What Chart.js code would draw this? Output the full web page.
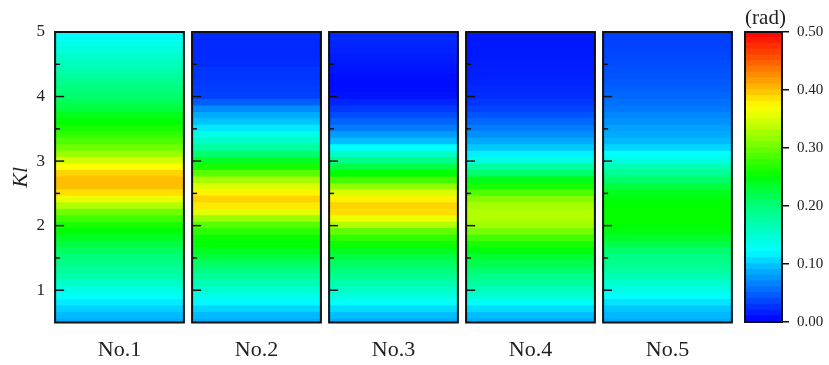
<!DOCTYPE html>
<html>
<head>
<meta charset="utf-8">
<script src="https://cdn.jsdelivr.net/npm/chart.js@4.4.0/dist/chart.umd.min.js"></script>
<style>
    body { margin: 0; background: #fff; }
    #wrap { position: relative; width: 829px; height: 365px; }
    #mainChart { position: absolute; left: 0; top: 0; }
    #barChart { position: absolute; left: 700px; top: 0; }
</style>
</head>
<body>
<div id="wrap">
    <canvas id="mainChart" width="745" height="365"></canvas>
    <canvas id="barChart" width="129" height="365"></canvas>
</div>
<script>
// paneles
const panelLabels = ['No.1', 'No.2', 'No.3', 'No.4', 'No.5'];

// Kl de 0.5 a 5.0
const klLevels = [0.5, 0.6, 0.7, 0.8, 0.9, 1.0, 1.1, 1.2, 1.3, 1.4,
    1.5, 1.6, 1.7, 1.8, 1.9, 2.0, 2.1, 2.2, 2.3, 2.4,
    2.5, 2.6, 2.7, 2.8, 2.9, 3.0, 3.1, 3.2, 3.3, 3.4,
    3.5, 3.6, 3.7, 3.8, 3.9, 4.0, 4.1, 4.2, 4.3, 4.4,
    4.5, 4.6, 4.7, 4.8, 4.9, 5.0];

// valores (rad) por panel, mismo orden que klLevels
const no1 = [0.085, 0.093, 0.103, 0.113, 0.123, 0.138, 0.155, 0.170, 0.180, 0.190,
    0.200, 0.210, 0.222, 0.235, 0.248, 0.262, 0.280, 0.300, 0.330, 0.360,
    0.385, 0.400, 0.400, 0.390, 0.370, 0.345, 0.320, 0.300, 0.285, 0.272,
    0.260, 0.250, 0.238, 0.225, 0.215, 0.205, 0.197, 0.189, 0.180, 0.170,
    0.160, 0.152, 0.143, 0.135, 0.127, 0.120];
const no2 = [0.085, 0.093, 0.105, 0.118, 0.133, 0.150, 0.165, 0.180, 0.195, 0.210,
    0.225, 0.238, 0.248, 0.255, 0.270, 0.290, 0.320, 0.355, 0.380, 0.390,
    0.375, 0.350, 0.325, 0.290, 0.260, 0.235, 0.205, 0.178, 0.155, 0.135,
    0.112, 0.098, 0.085, 0.070, 0.048, 0.033, 0.030, 0.028, 0.027, 0.026,
    0.022, 0.021, 0.020, 0.020, 0.021, 0.022];
const no3 = [0.085, 0.095, 0.108, 0.125, 0.140, 0.155, 0.170, 0.185, 0.198, 0.210,
    0.222, 0.238, 0.255, 0.272, 0.295, 0.330, 0.360, 0.385, 0.390, 0.375,
    0.350, 0.315, 0.280, 0.250, 0.220, 0.190, 0.155, 0.120, 0.095, 0.078,
    0.062, 0.050, 0.038, 0.028, 0.018, 0.010, 0.007, 0.006, 0.007, 0.010,
    0.012, 0.014, 0.016, 0.018, 0.020, 0.022];
const no4 = [0.085, 0.095, 0.108, 0.125, 0.145, 0.163, 0.178, 0.192, 0.205, 0.218,
    0.230, 0.245, 0.260, 0.280, 0.305, 0.322, 0.330, 0.330, 0.325, 0.310,
    0.285, 0.260, 0.240, 0.205, 0.175, 0.140, 0.115, 0.100, 0.085, 0.072,
    0.062, 0.052, 0.042, 0.033, 0.027, 0.022, 0.020, 0.018, 0.016, 0.015,
    0.014, 0.013, 0.012, 0.012, 0.012, 0.012];
const no5 = [0.085, 0.092, 0.100, 0.110, 0.122, 0.138, 0.150, 0.165, 0.178, 0.188,
    0.195, 0.205, 0.218, 0.232, 0.244, 0.250, 0.252, 0.252, 0.250, 0.245,
    0.237, 0.225, 0.205, 0.185, 0.165, 0.140, 0.120, 0.105, 0.093, 0.085,
    0.080, 0.073, 0.067, 0.060, 0.056, 0.052, 0.048, 0.045, 0.042, 0.040,
    0.038, 0.036, 0.034, 0.033, 0.032, 0.030];

// marcas del eje Kl y de la barra de color
const klTicks = [1, 2, 3, 4, 5];
const klMarks = [1, 1.5, 2, 2.5, 3, 3.5, 4, 4.5, 5];
const radTicks = [0, 0.1, 0.2, 0.3, 0.4, 0.5];
const radLevels = [0.00, 0.01, 0.02, 0.03, 0.04, 0.05, 0.06, 0.07, 0.08, 0.09,
    0.10, 0.11, 0.12, 0.13, 0.14, 0.15, 0.16, 0.17, 0.18, 0.19,
    0.20, 0.21, 0.22, 0.23, 0.24, 0.25, 0.26, 0.27, 0.28, 0.29,
    0.30, 0.31, 0.32, 0.33, 0.34, 0.35, 0.36, 0.37, 0.38, 0.39,
    0.40, 0.41, 0.42, 0.43, 0.44, 0.45, 0.46, 0.47, 0.48, 0.49, 0.50];

// paleta tipo "jet"
const jetStops = [
    [0.00, 0, 0, 255], [0.03, 0, 60, 255], [0.06, 0, 120, 255], [0.10, 0, 200, 255],
    [0.12, 0, 255, 255], [0.16, 0, 255, 190], [0.20, 0, 255, 120], [0.25, 0, 255, 0],
    [0.30, 110, 255, 0], [0.34, 200, 255, 0], [0.37, 255, 255, 0], [0.40, 255, 190, 0],
    [0.45, 255, 90, 0], [0.50, 255, 0, 0]
];

function jetColor(v) {
    v = Math.max(0, Math.min(0.5, v));
    for (let i = 1; i < jetStops.length; i++) {
        const a = jetStops[i - 1], b = jetStops[i];
        if (v <= b[0]) {
            const t = (v - a[0]) / (b[0] - a[0]);
            const r = Math.round(a[1] + (b[1] - a[1]) * t);
            const g = Math.round(a[2] + (b[2] - a[2]) * t);
            const bl = Math.round(a[3] + (b[3] - a[3]) * t);
            return `rgb(${r},${g},${bl})`;
        }
    }
    return 'rgb(255,0,0)';
}

const serif = 'Liberation Serif';
const textColor = '#222';
const panelSeries = [no1, no2, no3, no4, no5];
const last = klLevels.length - 1;

// una fila de celdas por nivel de Kl
const mainDatasets = klLevels.map((kl, i) => {
    const lo = i === 0 ? klLevels[0] : (klLevels[i - 1] + kl) / 2;
    const hi = i === last ? klLevels[last] : (kl + klLevels[i + 1]) / 2;
    return {
        data: panelSeries.map(() => [lo, hi]),
        backgroundColor: panelSeries.map(s => jetColor(s[i])),
        borderWidth: 0,
        inflateAmount: 0.8,
        grouped: false,
        categoryPercentage: 1,
        barPercentage: 0.94
    };
});

// marcos y marcas internas de cada panel
const panelFrames = {
    id: 'panelFrames',
    afterDatasetsDraw(chart) {
        const ctx = chart.ctx;
        const yScale = chart.scales.y;
        const top = yScale.getPixelForValue(klLevels[last]);
        const bottom = yScale.getPixelForValue(klLevels[0]);
        const bars = chart.getDatasetMeta(0).data;
        ctx.save();
        ctx.strokeStyle = '#111';
        bars.forEach(bar => {
            const left = bar.x - bar.width / 2;
            const right = bar.x + bar.width / 2;
            ctx.lineWidth = 1.5;
            klMarks.forEach(v => {
                const y = yScale.getPixelForValue(v);
                const len = Number.isInteger(v) ? 9 : 5;
                ctx.beginPath();
                ctx.moveTo(left, y);
                ctx.lineTo(left + len, y);
                ctx.stroke();
            });
            ctx.lineWidth = 2;
            ctx.strokeRect(left, top, right - left, bottom - top);
        });
        ctx.restore();
    }
};

new Chart(document.getElementById('mainChart').getContext('2d'), {
    type: 'bar',
    data: { labels: panelLabels, datasets: mainDatasets },
    options: {
        responsive: false,
        animation: false,
        layout: { padding: { top: 32, right: 9, bottom: 0, left: 0 } },
        plugins: { legend: { display: false }, tooltip: { enabled: false } },
        scales: {
            x: {
                grid: { display: false, drawTicks: false },
                border: { display: false },
                ticks: { color: textColor, font: { family: serif, size: 22 }, padding: 15, maxRotation: 0 },
                afterFit: s => { s.height = 42.5; }
            },
            y: {
                min: klLevels[0],
                max: klLevels[last],
                grid: { display: false, drawTicks: false },
                border: { display: false },
                afterBuildTicks: s => { s.ticks = klTicks.map(v => ({ value: v })); },
                ticks: { color: textColor, font: { family: serif, size: 17 }, padding: 6 },
                title: {
                    display: true,
                    text: 'Kl',
                    color: textColor,
                    font: { family: serif, size: 22, style: 'italic' },
                    padding: { top: 8, bottom: 0 }
                },
                afterFit: s => { s.width = 51; }
            }
        }
    },
    plugins: [panelFrames]
});

// BARRA DE COLOR
const barDatasets = radLevels.slice(0, -1).map((v, i) => ({
    data: [[v, radLevels[i + 1]]],
    backgroundColor: jetColor((v + radLevels[i + 1]) / 2),
    borderWidth: 0,
    inflateAmount: 0.8,
    grouped: false,
    categoryPercentage: 1,
    barPercentage: 1
}));

const barFrame = {
    id: 'barFrame',
    afterDatasetsDraw(chart) {
        const ctx = chart.ctx;
        const a = chart.chartArea;
        ctx.save();
        ctx.strokeStyle = '#111';
        ctx.lineWidth = 2;
        ctx.strokeRect(a.left, a.top, a.right - a.left, a.bottom - a.top);
        ctx.fillStyle = textColor;
        ctx.font = `21px "${serif}"`;
        ctx.textAlign = 'center';
        ctx.textBaseline = 'alphabetic';
        ctx.fillText('(rad)', (a.left + a.right) / 2 + 2, a.top - 8);
        ctx.restore();
    }
};

new Chart(document.getElementById('barChart').getContext('2d'), {
    type: 'bar',
    data: { labels: [''], datasets: barDatasets },
    options: {
        responsive: false,
        animation: false,
        layout: { padding: { top: 32, right: 0, bottom: 43, left: 45 } },
        plugins: { legend: { display: false }, tooltip: { enabled: false } },
        scales: {
            x: { display: false },
            y: {
                position: 'right',
                min: radLevels[0],
                max: radLevels[radLevels.length - 1],
                grid: { display: true, drawOnChartArea: false, drawTicks: true, tickLength: 7, color: '#111', lineWidth: 1.5 },
                border: { display: false },
                afterBuildTicks: s => { s.ticks = radTicks.map(v => ({ value: v })); },
                ticks: {
                    color: textColor,
                    font: { family: serif, size: 15 },
                    padding: 8,
                    callback: v => Number(v).toFixed(2)
                },
                afterFit: s => { s.width = 47; }
            }
        }
    },
    plugins: [barFrame]
});
</script>
</body>
</html>
